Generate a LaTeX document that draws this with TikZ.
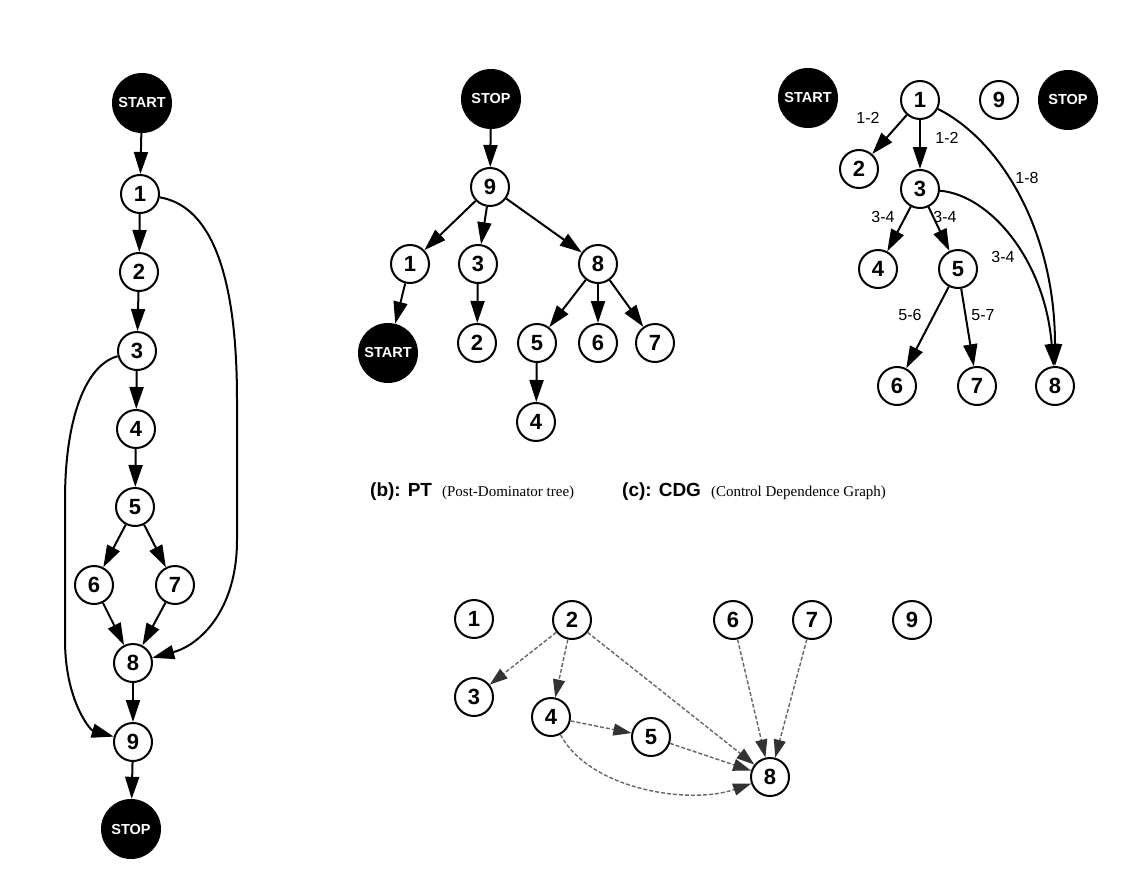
\documentclass[tikz,border=0pt]{standalone}
\usepackage{fontspec}
\setmainfont{Liberation Serif}
\setsansfont{Liberation Sans}
\usetikzlibrary{arrows.meta}
\newcommand{\capbold}{\sffamily\bfseries\fontsize{19}{19}\selectfont}
\newcommand{\capplain}{\rmfamily\fontsize{15}{15}\selectfont}
\begin{document}
\begin{tikzpicture}[x=1pt,y=-1pt,
  every node/.style={inner sep=0pt},
  vtx/.style={circle,draw,line width=2pt,minimum size=38pt,
    font=\sffamily\bfseries\fontsize{22}{22}\selectfont},
  term/.style={circle,fill=black,minimum size=60pt,text=white,
    font=\sffamily\bfseries\fontsize{14.5}{14.5}\selectfont},
  arr/.style={line width=2pt,-{Triangle[length=22pt,width=14pt]}},
  elabel/.style={font=\sffamily\fontsize{16}{16}\selectfont},
  dep/.style={line width=1.4pt,draw=black!60,dash pattern=on 4pt off 2pt,
    -{Triangle[length=18pt,width=12pt,color=black!80,fill=black!80]}},
  caption/.style={anchor=base west},
]
\useasboundingbox[fill=white] (0,0) rectangle (1124,875);

% ---------- (a) control flow graph ----------
\node[term] (aS) at (142,103) {START};
\node[vtx] (a1) at (140,194) {1};
\node[vtx] (a2) at (139,272) {2};
\node[vtx] (a3) at (137,351) {3};
\node[vtx] (a4) at (136,429) {4};
\node[vtx] (a5) at (135,507) {5};
\node[vtx] (a6) at (94,585) {6};
\node[vtx] (a7) at (175,585) {7};
\node[vtx] (a8) at (133,663) {8};
\node[vtx] (a9) at (133,742) {9};
\node[term] (aT) at (131,829) {STOP};

\draw[arr] (aS) -- (a1);
\draw[arr] (a1) -- (a2);
\draw[arr] (a2) -- (a3);
\draw[arr] (a3) -- (a4);
\draw[arr] (a4) -- (a5);
\draw[arr] (a5) -- (a6);
\draw[arr] (a5) -- (a7);
\draw[arr] (a6) -- (a8);
\draw[arr] (a7) -- (a8);
\draw[arr] (a8) -- (a9);
\draw[arr] (a9) -- (aT);
\draw[arr] (a1) .. controls (205,205) and (237,260) .. (237,400)
  -- (237,540) .. controls (237,610) and (200,645) .. (a8);
\draw[arr] (a3) .. controls (85,365) and (65,420) .. (65,500)
  -- (65,640) .. controls (65,700) and (90,730) .. (a9);

% ---------- (b) post-dominator tree ----------
\node[term] (pT) at (491,99) {STOP};
\node[vtx] (p9) at (490,187) {9};
\node[vtx] (p1) at (410,264) {1};
\node[vtx] (p3) at (478,264) {3};
\node[vtx] (p8) at (598,264) {8};
\node[term] (pS) at (388,353) {START};
\node[vtx] (p2) at (477,343) {2};
\node[vtx] (p5) at (537,343) {5};
\node[vtx] (p6) at (598,343) {6};
\node[vtx] (p7) at (655,343) {7};
\node[vtx] (p4) at (536,422) {4};

\draw[arr] (pT) -- (p9);
\draw[arr] (p9) -- (p1);
\draw[arr] (p9) -- (p3);
\draw[arr] (p9) -- (p8);
\draw[arr] (p1) -- (pS);
\draw[arr] (p3) -- (p2);
\draw[arr] (p8) -- (p5);
\draw[arr] (p8) -- (p6);
\draw[arr] (p8) -- (p7);
\draw[arr] (p5) -- (p4);

% ---------- (c) control dependence graph ----------
\node[term] (cS) at (808,98) {START};
\node[vtx] (c1) at (920,100) {1};
\node[vtx] (c9) at (999,100) {9};
\node[term] (cT) at (1068,100) {STOP};
\node[vtx] (c2) at (859,169) {2};
\node[vtx] (c3) at (920,189) {3};
\node[vtx] (c4) at (878,269) {4};
\node[vtx] (c5) at (958,269) {5};
\node[vtx] (c6) at (897,386) {6};
\node[vtx] (c7) at (977,386) {7};
\node[vtx] (c8) at (1055,386) {8};

\draw[arr] (c1) -- (c2);
\draw[arr] (c1) -- (c3);
\draw[arr] (c1) .. controls (1000,140) and (1055,230) .. (c8);
\draw[arr] (c3) -- (c4);
\draw[arr] (c3) -- (c5);
\draw[arr] (c3) .. controls (990,195) and (1045,260) .. (c8);
\draw[arr] (c5) -- (c6);
\draw[arr] (c5) -- (c7);

\node[elabel] (l12a) at (868,118) {1-2};
\node[elabel] (l12b) at (947,138) {1-2};
\node[elabel] (l18) at (1027,178) {1-8};
\node[elabel] (l34a) at (883,217) {3-4};
\node[elabel] (l34b) at (945,217) {3-4};
\node[elabel] (l34c) at (1003,257) {3-4};
\node[elabel] (l56) at (910,315) {5-6};
\node[elabel] (l57) at (983,315) {5-7};

% ---------- captions ----------
\node[caption] (capb) at (370,496)
  {{\capbold (b): PT}\hspace{10pt}{\capplain (Post-Dominator tree)}};
\node[caption] (capc) at (622,496)
  {{\capbold (c): CDG}\hspace{10pt}{\capplain (Control Dependence Graph)}};

% ---------- (d) dependence graph ----------
\node[vtx] (b1) at (474,619) {1};
\node[vtx] (b2) at (572,620) {2};
\node[vtx] (b3) at (474,697) {3};
\node[vtx] (b4) at (551,717) {4};
\node[vtx] (b5) at (651,737) {5};
\node[vtx] (b6) at (733,620) {6};
\node[vtx] (b7) at (812,620) {7};
\node[vtx] (b9) at (912,620) {9};
\node[vtx] (b8) at (770,777) {8};

\draw[dep] (b2) -- (b3);
\draw[dep] (b2) -- (b4);
\draw[dep] (b2) -- (b8);
\draw[dep] (b4) -- (b5);
\draw[dep] (b5) -- (b8);
\draw[dep] (b6) -- (b8);
\draw[dep] (b7) -- (b8);
\draw[dep] (b4) .. controls (590,790) and (690,805) .. (b8);
\end{tikzpicture}
\end{document}
